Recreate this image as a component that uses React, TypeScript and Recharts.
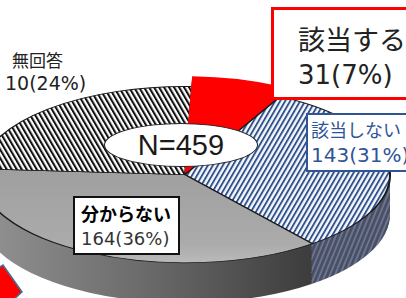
import { PieChart, Pie, Cell } from 'recharts';

// 3D-looking pie: flat Recharts pie squashed with CSS scaleY, side wall built from stacked layers
const categories = ['該当する', '該当しない', '分からない', '無回答'];
const counts = ['31', '143', '164', '10'];
const percents = [7, 31, 36, 24];
const totalLabel = 'N=459';

const data = categories.map((name, i) => ({ name, value: percents[i] }));

const topFills = ['#ff0000', 'url(#blueHatch)', 'url(#grayTop)', 'url(#blackHatch)'];
const sideFills = ['#d00000', 'url(#blueSide)', 'url(#graySide)', '#555555'];

const SCALE = 0.43;
const CX = 180;
const CY = 250;
const R = 205;
const STEP = 3;
const START = 88;
const depthLayers = Array.from({ length: 31 }, (_, i) => 31 - i);
const liftLayers = Array.from({ length: 8 }, (_, i) => i + 1);

const fontJa = '"Noto Sans CJK JP", "Noto Sans", sans-serif';
const fontNum = '"DejaVu Sans", sans-serif';

export default function App() {
  return (
    <div
      style={{
        position: 'fixed',
        left: 0,
        top: 0,
        width: 406,
        height: 298,
        overflow: 'hidden',
        background: '#ffffff',
        fontFamily: fontJa,
      }}
    >
      <div
        style={{
          position: 'absolute',
          left: 0,
          top: 172 - CY * SCALE,
          transform: `scaleY(${SCALE})`,
          transformOrigin: '0 0',
        }}
      >
        <PieChart width={420} height={560}>
          <defs>
            <pattern id="blackHatch" patternUnits="userSpaceOnUse" width={5} height={20} patternTransform="skewX(14)">
              <rect width={5} height={20} fill="#ffffff" />
              <rect width={2.4} height={20} fill="#111111" />
            </pattern>
            <pattern id="blueHatch" patternUnits="userSpaceOnUse" width={5} height={20} patternTransform="skewX(-14)">
              <rect width={5} height={20} fill="#f4f8ff" />
              <rect width={2.2} height={20} fill="#34528a" />
            </pattern>
            <pattern id="blueSide" patternUnits="userSpaceOnUse" width={5} height={20} patternTransform="skewX(-10)">
              <rect width={5} height={20} fill="#4a5062" />
              <rect width={2} height={20} fill="#6b7594" />
            </pattern>
            <linearGradient id="grayTop" x1="0" y1="0" x2="0" y2="1">
              <stop offset="0" stopColor="#9f9f9f" />
              <stop offset="0.8" stopColor="#ababab" />
              <stop offset="1" stopColor="#bababa" />
            </linearGradient>
            <linearGradient id="graySide" x1="0" y1="0" x2="1" y2="0">
              <stop offset="0" stopColor="#939393" />
              <stop offset="0.5" stopColor="#6a6a6a" />
              <stop offset="1" stopColor="#3c3c3c" />
            </linearGradient>
          </defs>
          {depthLayers.map((k) => (
            <Pie
              key={`side-${k}`}
              data={data}
              dataKey="value"
              cx={CX}
              cy={CY + k * STEP}
              outerRadius={R}
              startAngle={START}
              endAngle={START - 360}
              stroke="none"
              isAnimationActive={false}
            >
              {data.map((d, i) => (
                <Cell key={d.name} fill={sideFills[i]} />
              ))}
            </Pie>
          ))}
          <Pie
            data={data}
            dataKey="value"
            cx={CX}
            cy={CY}
            outerRadius={R}
            startAngle={START}
            endAngle={START - 360}
            stroke="#1a1a1a"
            strokeWidth={2}
            isAnimationActive={false}
          >
            {data.map((d, i) => (
              <Cell key={d.name} fill={topFills[i]} />
            ))}
          </Pie>
          {liftLayers.map((k) => (
            <Pie
              key={`lift-${k}`}
              data={data}
              dataKey="value"
              cx={CX}
              cy={CY - k * STEP}
              outerRadius={R}
              startAngle={START}
              endAngle={START - 360}
              stroke="none"
              isAnimationActive={false}
            >
              {data.map((d, i) => (
                <Cell key={d.name} fill={i === 0 ? '#ff0000' : 'none'} />
              ))}
            </Pie>
          ))}
        </PieChart>
      </div>

      {/* total in the middle */}
      <div
        style={{
          position: 'absolute',
          left: 104,
          top: 123,
          width: 154,
          height: 44,
          boxSizing: 'border-box',
          borderRadius: '50%',
          border: '1.5px solid #222',
          background: '#fff',
          display: 'flex',
          alignItems: 'center',
          justifyContent: 'center',
          fontFamily: '"Liberation Sans", Arial, sans-serif',
          fontSize: 29,
          color: '#1a1a1a',
        }}
      >
        {totalLabel}
      </div>

      {/* 該当する */}
      <div
        style={{
          position: 'absolute',
          left: 271,
          top: 7,
          width: 160,
          height: 93,
          boxSizing: 'border-box',
          border: '3px solid #ff0000',
          background: '#fff',
          padding: '11px 0 0 24px',
          lineHeight: '36px',
          color: '#222',
          whiteSpace: 'nowrap',
        }}
      >
        <div style={{ fontSize: 27 }}>{categories[0]}</div>
        <div style={{ fontSize: 26, fontFamily: fontNum }}>{`${counts[0]}(${percents[0]}%)`}</div>
      </div>

      {/* 該当しない */}
      <div
        style={{
          position: 'absolute',
          left: 306,
          top: 113,
          width: 120,
          height: 59,
          boxSizing: 'border-box',
          border: '2px solid #2f5597',
          background: '#fff',
          padding: '1px 0 0 3px',
          lineHeight: '26px',
          color: '#2f5597',
          whiteSpace: 'nowrap',
        }}
      >
        <div style={{ fontSize: 18 }}>{categories[1]}</div>
        <div style={{ fontSize: 20, fontFamily: fontNum }}>{`${counts[1]}(${percents[1]}%)`}</div>
      </div>

      {/* 分からない */}
      <div
        style={{
          position: 'absolute',
          left: 73,
          top: 196,
          width: 107,
          height: 59,
          boxSizing: 'border-box',
          border: '2px solid #111',
          background: '#fff',
          padding: '3px 0 0 6px',
          lineHeight: '25px',
          color: '#333',
          whiteSpace: 'nowrap',
        }}
      >
        <div style={{ fontWeight: 700, color: '#000', fontSize: 18 }}>{categories[2]}</div>
        <div style={{ fontSize: 18, fontFamily: fontNum }}>{`${counts[2]}(${percents[2]}%)`}</div>
      </div>

      {/* 無回答 */}
      <div
        style={{
          position: 'absolute',
          left: 5,
          top: 49,
          color: '#222',
          whiteSpace: 'nowrap',
        }}
      >
        <div style={{ fontSize: 17, lineHeight: '22px', paddingLeft: 7 }}>{categories[3]}</div>
        <div style={{ fontSize: 19, lineHeight: '24px', fontFamily: fontNum }}>{`${counts[3]}(${percents[3]}%)`}</div>
      </div>

      {/* red arrow tip, bottom left */}
      <svg style={{ position: 'absolute', left: 0, top: 255 }} width={40} height={43}>
        <polygon points="-20,25 3,10 22,37 2,55" fill="#ff0000" stroke="#41719c" strokeWidth={1.5} />
      </svg>
    </div>
  );
}
